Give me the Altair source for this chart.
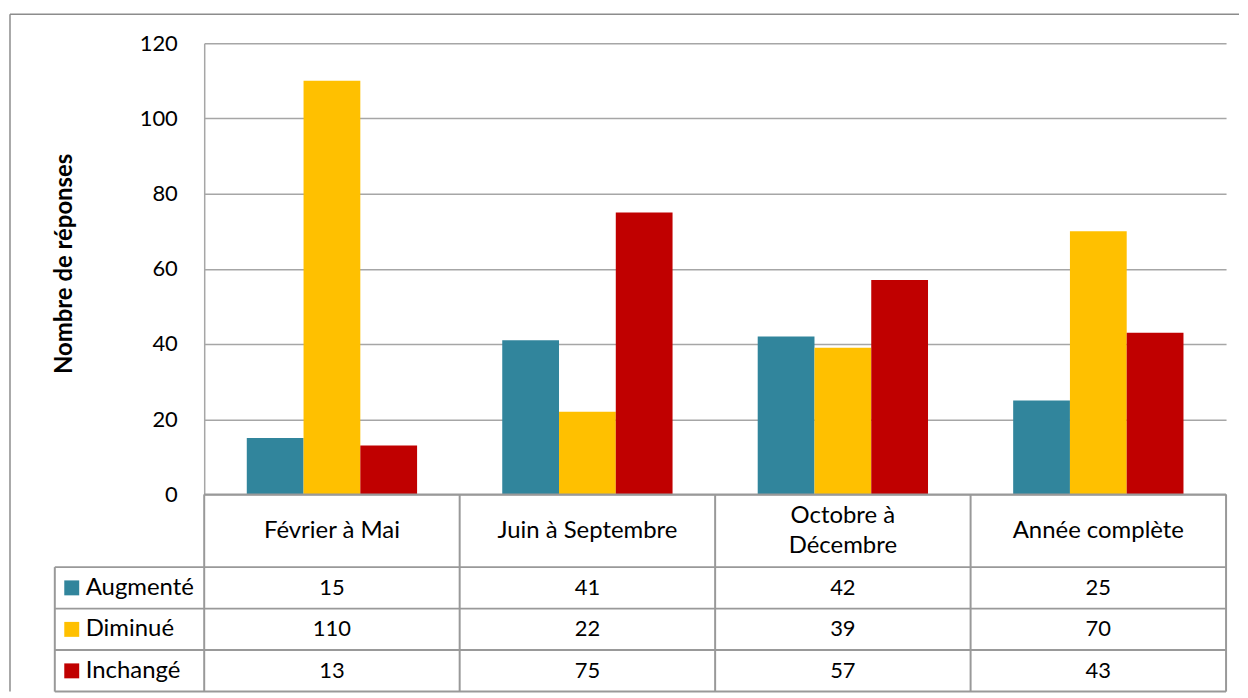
import altair as alt
import pandas as pd

categories = ["Février à Mai", "Juin à Septembre", "Octobre à Décembre", "Année complète"]
header_labels = ["Février à Mai", "Juin à Septembre", "Octobre à\nDécembre", "Année complète"]
series = ["Augmenté", "Diminué", "Inchangé"]
augmente = [15, 41, 42, 25]
diminue = [110, 22, 39, 70]
inchange = [13, 75, 57, 43]
colors = ["#31859C", "#FFC000", "#C00000"]
y_ticks = [0, 20, 40, 60, 80, 100, 120]

rows = []
for s, vals in zip(series, [augmente, diminue, inchange]):
    for c, v in zip(categories, vals):
        rows.append({"cat": c, "serie": s, "value": v})
df = pd.DataFrame(rows)
hdr = pd.DataFrame({"cat": categories, "label": header_labels})
hdr["multi"] = hdr["label"].str.contains("\n")
ser = pd.DataFrame({"serie": series})

FONT = "Lato"
FS_TXT = 24
FS_NUM = 22
GRID = "#A6A6A6"
LINE = "#999999"
W, H = 1026, 453
TH = 198
HDR_H = 73
one = alt.Data(values=[{"a": 1}])

color_scale = alt.Scale(domain=series, range=colors)

bars = alt.Chart(df).mark_bar().encode(
    x=alt.X("cat:N", sort=categories,
            scale=alt.Scale(paddingInner=1/3, paddingOuter=1/6), axis=None),
    xOffset=alt.XOffset("serie:N", sort=series,
                        scale=alt.Scale(paddingInner=0, paddingOuter=0)),
    y=alt.Y("value:Q", scale=alt.Scale(domain=[0, 120], nice=False),
            axis=alt.Axis(values=y_ticks, title="Nombre de réponses",
                          grid=True, gridColor=GRID, gridWidth=1.5,
                          domainColor=GRID, domainWidth=1.5, ticks=False,
                          labelPadding=27, labelFont=FONT, labelFontSize=FS_NUM,
                          labelColor="black", titleFont=FONT, titleFontSize=24,
                          titleFontWeight="bold", titleColor="black",
                          titleX=-140, titleY=221, titleAlign="center",
                          titleBaseline="middle", titleAngle=270)),
    color=alt.Color("serie:N", scale=color_scale, legend=None),
)

border_left = alt.Chart(one).mark_rule(color="#8C8C8C", strokeWidth=1.5).encode(
    x=alt.value(-195), y=alt.value(-29), y2=alt.value(H + TH))
border_top = alt.Chart(one).mark_rule(color="#8C8C8C", strokeWidth=1.5).encode(
    x=alt.value(-195), x2=alt.value(1039), y=alt.value(-29))

top = alt.layer(bars, border_left, border_top).properties(width=W, height=H)

# table
row_h = (TH - HDR_H) / 3
xb = alt.X("cat:N", sort=categories, scale=alt.Scale(paddingInner=0, paddingOuter=0), axis=None)
yrow = alt.Y("serie:N", sort=series,
             scale=alt.Scale(type="point", range=[HDR_H + row_h / 2, TH - row_h / 2], padding=0),
             axis=None)

header1 = alt.Chart(hdr).transform_filter("!datum.multi").mark_text(
    font=FONT, fontSize=FS_TXT, baseline="middle", color="black").encode(
    x=xb, y=alt.value(HDR_H / 2), text="label:N")
header2 = alt.Chart(hdr).transform_filter("datum.multi").mark_text(
    font=FONT, fontSize=FS_TXT, lineBreak="\n", lineHeight=30,
    baseline="middle", color="black").encode(
    x=xb, y=alt.value(HDR_H / 2 - 15), text="label:N")
cells = alt.Chart(df).mark_text(font=FONT, fontSize=FS_NUM, baseline="middle", color="black").encode(
    x=xb, y=yrow, text="value:Q")
squares = alt.Chart(ser).mark_square(size=225, opacity=1).encode(
    x=alt.value(-133), y=yrow,
    color=alt.Color("serie:N", scale=color_scale, legend=None))
rowlabels = alt.Chart(ser).mark_text(font=FONT, fontSize=FS_TXT, align="left", baseline="middle",
                                     color="black").encode(
    x=alt.value(-119), y=yrow, text="serie:N")

lines = []
lines.append(alt.Chart(one).mark_rule(color=LINE, strokeWidth=2).encode(
    x=alt.value(0), x2=alt.value(W), y=alt.value(0)))
for k in range(4):
    yy = HDR_H + k * row_h
    lines.append(alt.Chart(one).mark_rule(color=LINE, strokeWidth=2).encode(
        x=alt.value(-150), x2=alt.value(W), y=alt.value(yy)))
lines.append(alt.Chart(one).mark_rule(color=LINE, strokeWidth=2).encode(
    x=alt.value(-150), y=alt.value(HDR_H), y2=alt.value(TH)))
for k in range(5):
    lines.append(alt.Chart(one).mark_rule(color=LINE, strokeWidth=2).encode(
        x=alt.value(k * W / 4), y=alt.value(0), y2=alt.value(TH)))

bottom = alt.layer(*lines, header1, header2, cells, squares, rowlabels).properties(width=W, height=TH)

chart = alt.vconcat(top, bottom, spacing=0, bounds="flush").resolve_scale(
    x="independent", y="independent", color="independent", xOffset="independent"
).properties(padding={"left": 1, "top": 4, "right": 0, "bottom": 0}).configure_view(strokeWidth=0)

chart.save("out.html", embed_options={"renderer": "svg", "actions": False})
